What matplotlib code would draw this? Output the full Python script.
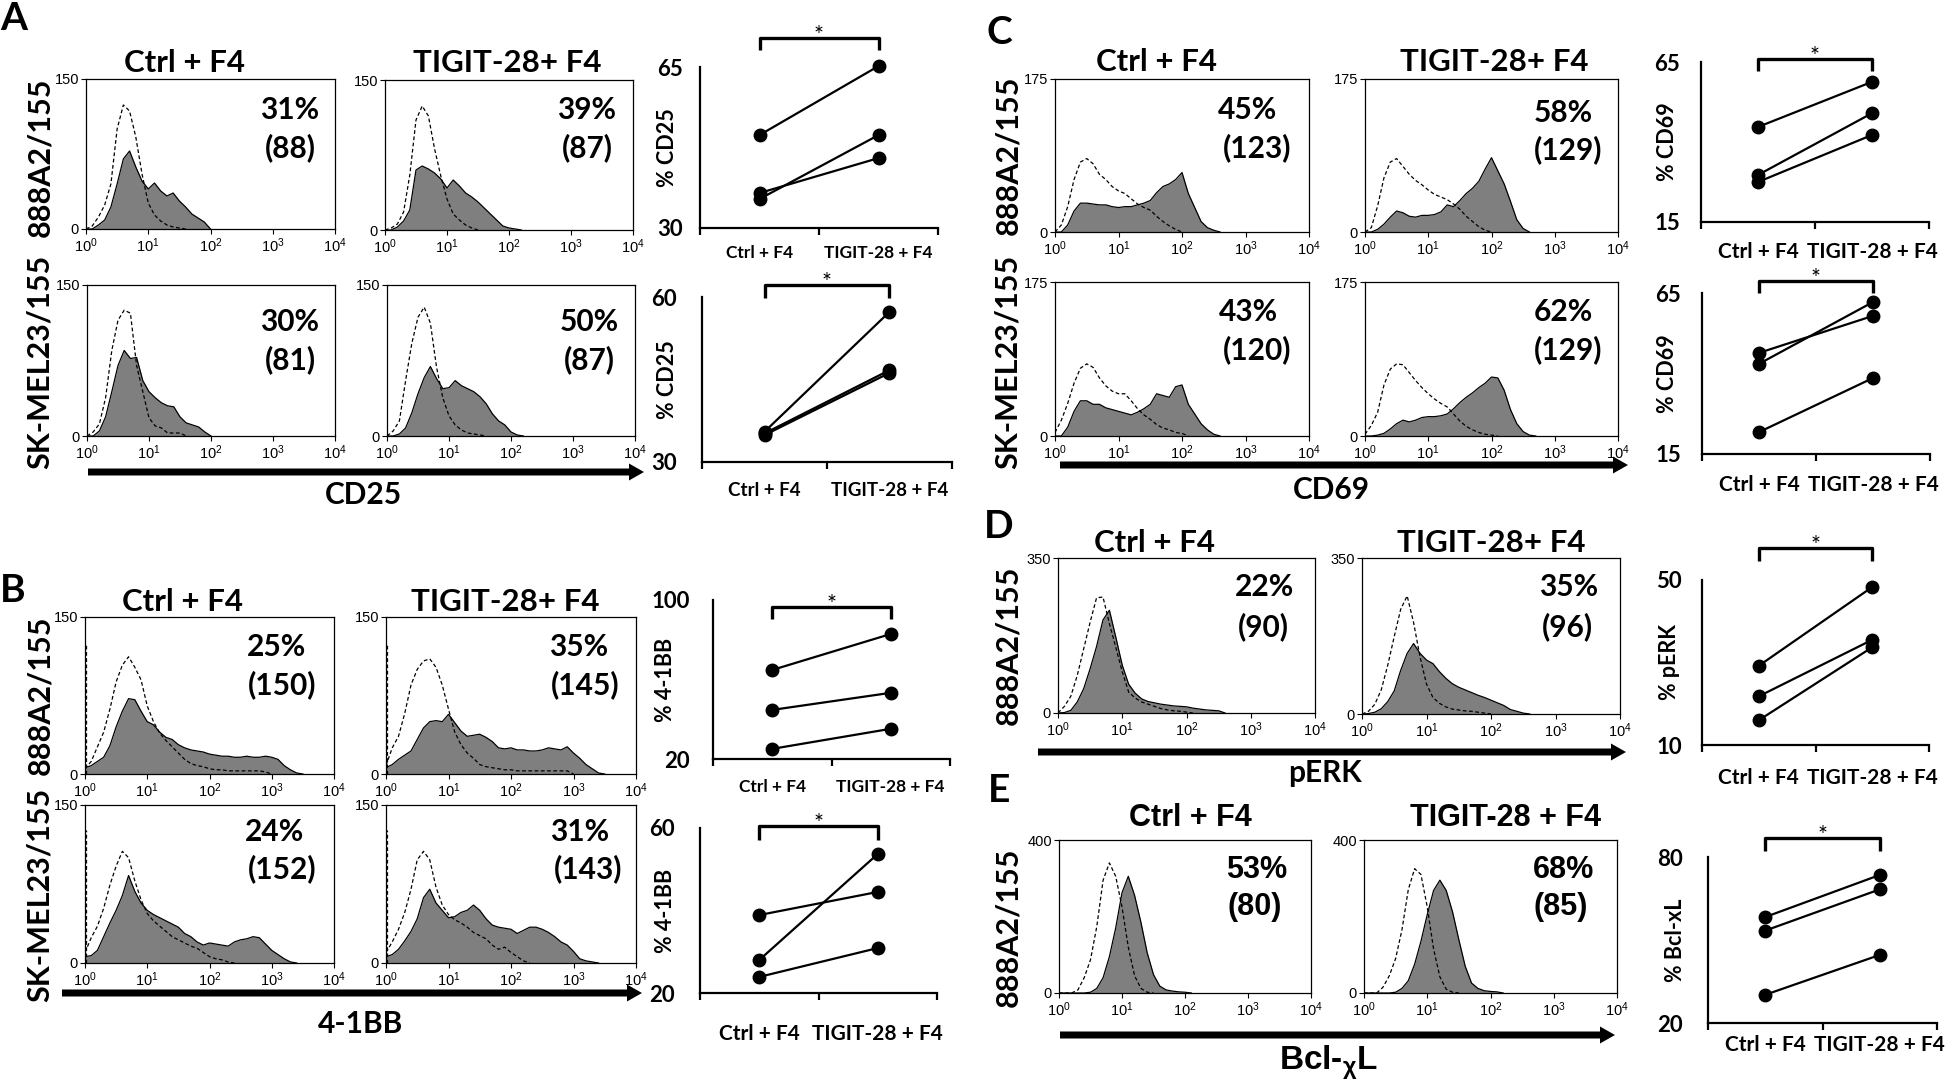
import numpy as np
import matplotlib
matplotlib.use("Agg")
import matplotlib.pyplot as plt
from matplotlib.patches import FancyArrow

W, H = 1946, 1081
BODY = ['Lato', 'DejaVu Sans']
FLOW = ['Liberation Sans Narrow', 'Liberation Sans', 'DejaVu Sans']
ARIAL = ['Liberation Sans', 'DejaVu Sans']
plt.rcParams['font.family'] = BODY

# histogram channels: log10 position of each 0.1-decade bin, starting at 10^0
channels = np.round(np.arange(0, 4.01, 0.1), 1)

# ---- A: CD25 (counts, y max 150) ----
cd25_888_ctrl_fill = [0, 0, 4, 9, 22, 45, 70, 78, 62, 48, 40, 46, 38, 33, 36, 28, 22, 15, 11, 7, 0]
cd25_888_ctrl_iso = [0, 3, 12, 24, 45, 100, 124, 118, 92, 55, 26, 14, 8, 4, 2, 1, 0]
cd25_888_tigit_fill = [0, 0, 3, 9, 20, 60, 64, 61, 57, 51, 42, 50, 44, 37, 33, 28, 22, 16, 10, 4, 2, 1, 0]
cd25_888_tigit_iso = [0, 2, 6, 18, 55, 110, 124, 114, 81, 54, 31, 16, 10, 5, 2, 0]
cd25_sk_ctrl_fill = [0, 0, 5, 19, 44, 70, 85, 77, 78, 55, 44, 38, 33, 30, 29, 19, 13, 11, 9, 4, 0]
cd25_sk_ctrl_iso = [0, 4, 12, 38, 85, 115, 125, 122, 70, 44, 18, 10, 8, 3, 3, 3, 0]
cd25_sk_tigit_fill = [0, 0, 2, 8, 23, 42, 58, 69, 57, 47, 48, 55, 50, 47, 44, 39, 32, 22, 15, 11, 4, 1, 0]
cd25_sk_tigit_iso = [0, 5, 15, 55, 92, 118, 128, 112, 68, 38, 20, 11, 6, 3, 2, 1, 0]

# ---- B: 4-1BB (y max 150), control has a pile-up in the first channel ----
bb_888_ctrl_fill = [6, 8, 12, 16, 27, 45, 60, 72, 71, 60, 50, 47, 40, 35, 33, 28, 25, 23, 22, 21, 19, 18,
                    17, 17, 16, 16, 17, 16, 16, 17, 16, 14, 8, 4, 1, 0]
bb_888_ctrl_iso = [5, 12, 26, 40, 62, 88, 104, 112, 102, 90, 65, 50, 39, 32, 26, 20, 14, 10, 8, 7, 5, 4,
                   4, 3, 3, 3, 3, 3, 3, 2, 0]
bb_888_tigit_fill = [6, 9, 14, 18, 22, 33, 44, 50, 51, 50, 57, 49, 41, 36, 37, 38, 35, 31, 25, 24, 25, 23,
                     23, 22, 22, 23, 25, 24, 23, 26, 20, 15, 9, 5, 1, 0]
bb_888_tigit_iso = [8, 25, 36, 58, 85, 100, 108, 110, 102, 85, 62, 40, 28, 20, 15, 9, 7, 6, 5, 4, 4, 3,
                    3, 3, 3, 3, 3, 3, 3, 3, 0]
bb_sk_ctrl_fill = [6, 7, 12, 25, 38, 50, 64, 83, 68, 57, 50, 46, 43, 40, 37, 34, 28, 25, 20, 17, 19, 18,
                   17, 16, 20, 22, 23, 25, 24, 18, 12, 8, 4, 1, 0]
bb_sk_ctrl_iso = [10, 24, 35, 52, 74, 92, 106, 100, 78, 60, 47, 40, 35, 30, 25, 22, 19, 16, 14, 10, 6, 4, 3, 1, 0]
bb_sk_tigit_fill = [6, 8, 13, 21, 30, 42, 62, 70, 57, 50, 43, 44, 48, 50, 55, 50, 42, 36, 34, 33, 32, 28,
                    31, 34, 34, 32, 29, 25, 20, 17, 11, 4, 2, 1, 0]
bb_sk_tigit_iso = [10, 20, 32, 48, 70, 98, 106, 98, 72, 55, 46, 41, 38, 34, 29, 26, 23, 17, 13, 15, 10, 6, 2, 0]
bb_first_channel = [125, 125, 126, 126]

# ---- C: CD69 (y max 175) ----
cd69_888_ctrl_fill = [0, 0, 8, 24, 33, 33, 32, 31, 31, 29, 28, 29, 29, 31, 33, 36, 45, 52, 55, 60, 68, 44, 28, 12, 5, 2, 0]
cd69_888_ctrl_iso = [0, 8, 29, 60, 80, 84, 78, 66, 60, 52, 47, 44, 38, 32, 28, 25, 18, 12, 7, 3, 0]
cd69_888_tigit_fill = [0, 0, 3, 9, 17, 24, 22, 18, 17, 19, 19, 20, 23, 31, 29, 36, 44, 50, 58, 72, 85, 70, 55, 35, 14, 4, 0]
cd69_888_tigit_iso = [0, 5, 30, 62, 80, 84, 75, 66, 59, 54, 48, 43, 40, 37, 32, 26, 18, 12, 6, 2, 0]
cd69_sk_ctrl_fill = [0, 0, 10, 28, 40, 40, 36, 36, 32, 30, 28, 26, 24, 27, 31, 36, 48, 46, 44, 56, 58, 36, 25, 14, 7, 2, 0]
cd69_sk_ctrl_iso = [4, 18, 37, 60, 77, 82, 78, 66, 57, 51, 48, 48, 40, 31, 24, 19, 13, 9, 7, 4, 3, 0]
cd69_sk_tigit_fill = [0, 0, 1, 3, 8, 14, 18, 16, 18, 21, 22, 22, 23, 25, 31, 38, 44, 49, 55, 60, 67, 66, 52, 30, 14, 5, 1, 0]
cd69_sk_tigit_iso = [2, 12, 27, 58, 76, 82, 81, 72, 63, 55, 48, 42, 37, 33, 25, 17, 11, 7, 4, 2, 1, 0]

# ---- D: pERK (y max 350) ----
perk_ctrl_fill = [0, 1, 6, 25, 55, 100, 150, 210, 232, 171, 108, 65, 45, 32, 26, 23, 20, 18, 16, 15, 14, 11, 9, 7, 6, 5, 0]
perk_ctrl_iso = [0, 15, 38, 85, 145, 205, 260, 262, 202, 148, 93, 47, 34, 25, 20, 15, 10, 7, 5, 4, 2, 0]
perk_tigit_fill = [0, 1, 4, 12, 28, 52, 98, 136, 158, 136, 121, 113, 95, 80, 68, 60, 54, 48, 42, 37, 31, 25, 19, 10, 6, 2, 0]
perk_tigit_iso = [0, 6, 22, 55, 110, 174, 235, 265, 205, 128, 67, 37, 24, 16, 11, 9, 7, 6, 4, 2, 0]

# ---- E: Bcl-xL (y max 400) ----
bcl_ctrl_fill = [0, 0, 0, 0, 0, 2, 12, 40, 95, 170, 262, 305, 255, 185, 105, 48, 18, 8, 5, 3, 2, 0]
bcl_ctrl_iso = [0, 0, 0, 8, 40, 87, 174, 295, 340, 305, 225, 120, 45, 12, 2, 0]
bcl_tigit_fill = [0, 0, 0, 0, 0, 2, 12, 32, 75, 135, 205, 268, 295, 268, 212, 139, 70, 26, 12, 6, 4, 3, 0]
bcl_tigit_iso = [0, 0, 0, 15, 45, 90, 165, 270, 325, 310, 225, 115, 42, 10, 2, 0]

# ---- paired summaries (% positive), donors in the same order ----
cd25_888_ctrl = [50.2, 36.3, 37.6]
cd25_888_tigit = [65.2, 50.2, 45.2]
cd25_sk_ctrl = [35.5, 35.2, 34.9]
cd25_sk_tigit = [57.3, 46.7, 46.2]
bb_888_ctrl = [64.8, 44.7, 25.1]
bb_888_tigit = [82.9, 53.3, 35.2]
bb_sk_ctrl = [38.9, 28.0, 23.9]
bb_sk_tigit = [44.5, 53.7, 30.9]
cd69_888_ctrl = [44.7, 29.7, 27.5]
cd69_888_tigit = [58.8, 49.0, 42.2]
cd69_sk_ctrl = [46.4, 43.0, 21.8]
cd69_sk_tigit = [57.9, 62.2, 38.6]
perk_ctrl = [29.2, 21.8, 16.0]
perk_tigit = [48.3, 35.5, 33.7]
bcl_ctrl = [58.3, 53.4, 30.2]
bcl_tigit = [73.5, 68.3, 44.6]

groups = ['Ctrl + F4', 'TIGIT-28 + F4']
decade_ticks = [1, 10, 100, 1000, 10000]
decade_labels = [r'$\mathregular{10^{%d}}$' % i for i in range(5)]

fig = plt.figure(figsize=(W / 100, H / 100), dpi=100)


def px_axes(x0, y0, x1, y1):
    return fig.add_axes([x0 / W, 1 - y1 / H, (x1 - x0) / W, (y1 - y0) / H])


def flow_hist(box, ymax, fill, iso, spike=0):
    ax = px_axes(*box)
    xf = 10 ** channels[:len(fill)]
    xi = 10 ** channels[:len(iso)]
    ax.fill_between(xf, 0, fill, color='#7f7f7f', lw=0, zorder=2)
    ax.plot(xf, fill, color='black', lw=0.9, zorder=3)
    ax.plot(xi, iso, color='black', lw=0.9, ls=(0, (3, 2)), zorder=4)
    if spike:
        ax.plot([1.03, 1.03], [0, spike], color='black', lw=0.9, ls=(0, (3, 2)), zorder=4)
    ax.set_xscale('log')
    ax.set_xlim(1, 1e4)
    ax.set_ylim(0, ymax)
    ax.set_xticks(decade_ticks)
    ax.set_xticklabels(decade_labels, family=FLOW, fontsize=10.5)
    ax.minorticks_off()
    ax.set_yticks([0, ymax])
    ax.set_yticklabels(['0', str(ymax)], family=FLOW, fontsize=10.5)
    ax.tick_params(direction='out', length=3.5, width=0.8, pad=1.5)
    for s in ax.spines.values():
        s.set_linewidth(0.9)
    return ax


def pair_plot(box, lo, hi, ctrl, tigit, ylab, bracket, lab_y, lab_size, ylab_x, tick_pad):
    x0, y0, x1, y1 = box
    ax = px_axes(*box)
    h = y1 - y0
    for a, b in zip(ctrl, tigit):
        ax.plot([0.5, 1.5], [a, b], color='black', lw=1.6, marker='o', ms=9,
                mfc='black', mec='black', clip_on=False)
    ax.set_xlim(0, 2)
    ax.set_ylim(lo, hi)
    for s in ['top', 'right']:
        ax.spines[s].set_visible(False)
    for s in ['left', 'bottom']:
        ax.spines[s].set_linewidth(1.6)
    ax.set_xticks([0, 1, 2])
    ax.set_xticklabels([])
    ax.tick_params(axis='x', direction='out', length=5, width=1.6)
    ax.set_yticks([lo, hi])
    ax.set_yticklabels([str(lo), str(hi)], fontsize=16, fontweight='bold')
    ax.tick_params(axis='y', length=0, pad=tick_pad * 0.72)
    ax.text((ylab_x - x0) / (x1 - x0), 0.5, ylab, transform=ax.transAxes, rotation=90,
            ha='center', va='center', fontsize=15.5, fontweight='bold')
    tr = ax.get_xaxis_transform()
    yl = (y1 - lab_y) / h
    for xc, g in zip([0.5, 1.5], groups):
        ax.text(xc, yl, g, transform=tr, ha='center', va='center',
                fontsize=lab_size, fontweight='bold')
    by, bt = bracket
    ax.plot([0.5, 0.5, 1.5, 1.5], [(y1 - bt) / h, (y1 - by) / h, (y1 - by) / h, (y1 - bt) / h],
            transform=tr, color='black', lw=2.4, clip_on=False, solid_capstyle='butt')
    # asterisk glyph sits high in its line box, so anchor the baseline a little below the bracket
    ax.text(1.0, (y1 - by - 4) / h, '*', transform=tr, ha='center', va='baseline', fontsize=17)
    return ax


# ---------------- histograms ----------------
flow_hist((86, 79, 335, 229), 150, cd25_888_ctrl_fill, cd25_888_ctrl_iso)
flow_hist((385, 80, 633, 230), 150, cd25_888_tigit_fill, cd25_888_tigit_iso)
flow_hist((87, 285, 335, 436), 150, cd25_sk_ctrl_fill, cd25_sk_ctrl_iso)
flow_hist((387, 285, 635, 436), 150, cd25_sk_tigit_fill, cd25_sk_tigit_iso)

flow_hist((85, 617, 334, 774), 150, bb_888_ctrl_fill, bb_888_ctrl_iso, bb_first_channel[0])
flow_hist((386, 617, 636, 774), 150, bb_888_tigit_fill, bb_888_tigit_iso, bb_first_channel[1])
flow_hist((85, 805, 334, 963), 150, bb_sk_ctrl_fill, bb_sk_ctrl_iso, bb_first_channel[2])
flow_hist((386, 805, 636, 963), 150, bb_sk_tigit_fill, bb_sk_tigit_iso, bb_first_channel[3])

flow_hist((1055, 79, 1309, 232), 175, cd69_888_ctrl_fill, cd69_888_ctrl_iso)
flow_hist((1365, 79, 1618, 232), 175, cd69_888_tigit_fill, cd69_888_tigit_iso)
flow_hist((1055, 282, 1309, 436), 175, cd69_sk_ctrl_fill, cd69_sk_ctrl_iso)
flow_hist((1365, 282, 1618, 436), 175, cd69_sk_tigit_fill, cd69_sk_tigit_iso)

flow_hist((1058, 558, 1315, 713), 350, perk_ctrl_fill, perk_ctrl_iso)
flow_hist((1362, 558, 1620, 714), 350, perk_tigit_fill, perk_tigit_iso)

flow_hist((1059, 840, 1311, 993), 400, bcl_ctrl_fill, bcl_ctrl_iso)
flow_hist((1364, 840, 1617, 993), 400, bcl_tigit_fill, bcl_tigit_iso)

# ---------------- paired plots ----------------
pair_plot((700, 67, 938, 228), 30, 65, cd25_888_ctrl, cd25_888_tigit, '% CD25', (38, 50), 253, 12.5, 667, 17)
pair_plot((702, 297, 952, 462), 30, 60, cd25_sk_ctrl, cd25_sk_tigit, '% CD25', (285, 298), 490, 13.5, 667, 25)
pair_plot((713, 600, 950, 759), 20, 100, bb_888_ctrl, bb_888_tigit, '% 4-1BB', (607, 619), 787, 12.5, 665, 23)
pair_plot((700, 828, 937, 993), 20, 60, bb_sk_ctrl, bb_sk_tigit, '% 4-1BB', (826, 840), 1034, 15, 665, 25)
pair_plot((1701, 62, 1929, 222), 15, 65, cd69_888_ctrl, cd69_888_tigit, '% CD69', (59, 71), 252, 15, 1668, 21)
pair_plot((1702, 293, 1930, 454), 15, 65, cd69_sk_ctrl, cd69_sk_tigit, '% CD69', (281, 293), 485, 15, 1668, 21)
pair_plot((1702, 580, 1929, 745), 10, 50, perk_ctrl, perk_tigit, '% pERK', (548, 561), 778, 15, 1669, 20)
pair_plot((1708, 857, 1937, 1023), 20, 80, bcl_ctrl, bcl_tigit, '% Bcl-xL', (838, 851), 1045, 15, 1675, 25)

# ---------------- labels, arrows ----------------
ov = fig.add_axes([0, 0, 1, 1])
ov.set_xlim(0, W)
ov.set_ylim(H, 0)
ov.axis('off')


def txt(x, y, s, size, family=BODY, rot=0):
    ov.text(x, y, s, fontsize=size, fontweight='bold', family=family, rotation=rot,
            ha='center', va='center')


for letter, lx, ly in [('A', 14, 19), ('B', 13, 590), ('C', 999, 32), ('D', 999, 526), ('E', 999, 790)]:
    txt(lx, ly, letter, 28)

for (cx, cy) in [(185, 63), (183, 602), (1157, 62), (1155, 543)]:
    txt(cx, cy, 'Ctrl + F4', 22.5)
for (cx, cy) in [(507, 63), (505, 602), (1494, 62), (1491, 543)]:
    txt(cx, cy, 'TIGIT-28+ F4', 22.5)
txt(1190, 818, 'Ctrl + F4', 22, FLOW)
txt(1506, 818, 'TIGIT-28 + F4', 22, FLOW)

for (rx, ry, s) in [(40, 157, '888A2/155'), (40, 362, 'SK-MEL23/155'),
                    (40, 695, '888A2/155'), (40, 895, 'SK-MEL23/155'),
                    (1008, 155, '888A2/155'), (1008, 362, 'SK-MEL23/155'),
                    (1008, 645, '888A2/155'), (1008, 927, '888A2/155')]:
    txt(rx, ry, s, 22, rot=90)

pct = [(290, 110, '31%'), (290, 148, '(88)'), (587, 110, '39%'), (587, 148, '(87)'),
       (290, 322, '30%'), (290, 360, '(81)'), (589, 322, '50%'), (589, 360, '(87)'),
       (276, 647, '25%'), (282, 685, '(150)'), (579, 647, '35%'), (585, 685, '(145)'),
       (275, 832, '24%'), (282, 869, '(152)'), (580, 832, '31%'), (588, 869, '(143)'),
       (1248, 110, '45%'), (1257, 148, '(123)'), (1563, 113, '58%'), (1568, 150, '(129)'),
       (1248, 312, '43%'), (1257, 350, '(120)'), (1563, 312, '62%'), (1568, 350, '(129)'),
       (1264, 587, '22%'), (1263, 627, '(90)'), (1569, 587, '35%'), (1567, 627, '(96)')]
for (px, py, s) in pct:
    txt(px, py, s, 21.5)
for (px, py, s) in [(1257, 870, '53%'), (1255, 907, '(80)'), (1563, 870, '68%'), (1561, 907, '(85)')]:
    txt(px, py, s, 22, FLOW)

for (ax0, ax1, ay) in [(88, 644, 472), (62, 642, 993), (1060, 1628, 465), (1038, 1626, 752), (1060, 1615, 1035)]:
    ov.add_patch(FancyArrow(ax0, ay, ax1 - ax0, 0, width=7, head_width=17, head_length=15,
                            length_includes_head=True, color='black', lw=0))

txt(363, 495, 'CD25', 21.5)
txt(361, 1024, '4-1BB', 21.5)
txt(1331, 490, 'CD69', 21.5)
txt(1325, 773, 'pERK', 21.5)
txt(1329, 1063, r'Bcl-$_{\mathregular{χ}}$L', 24, ARIAL)

fig.savefig('out.png', dpi=100)
